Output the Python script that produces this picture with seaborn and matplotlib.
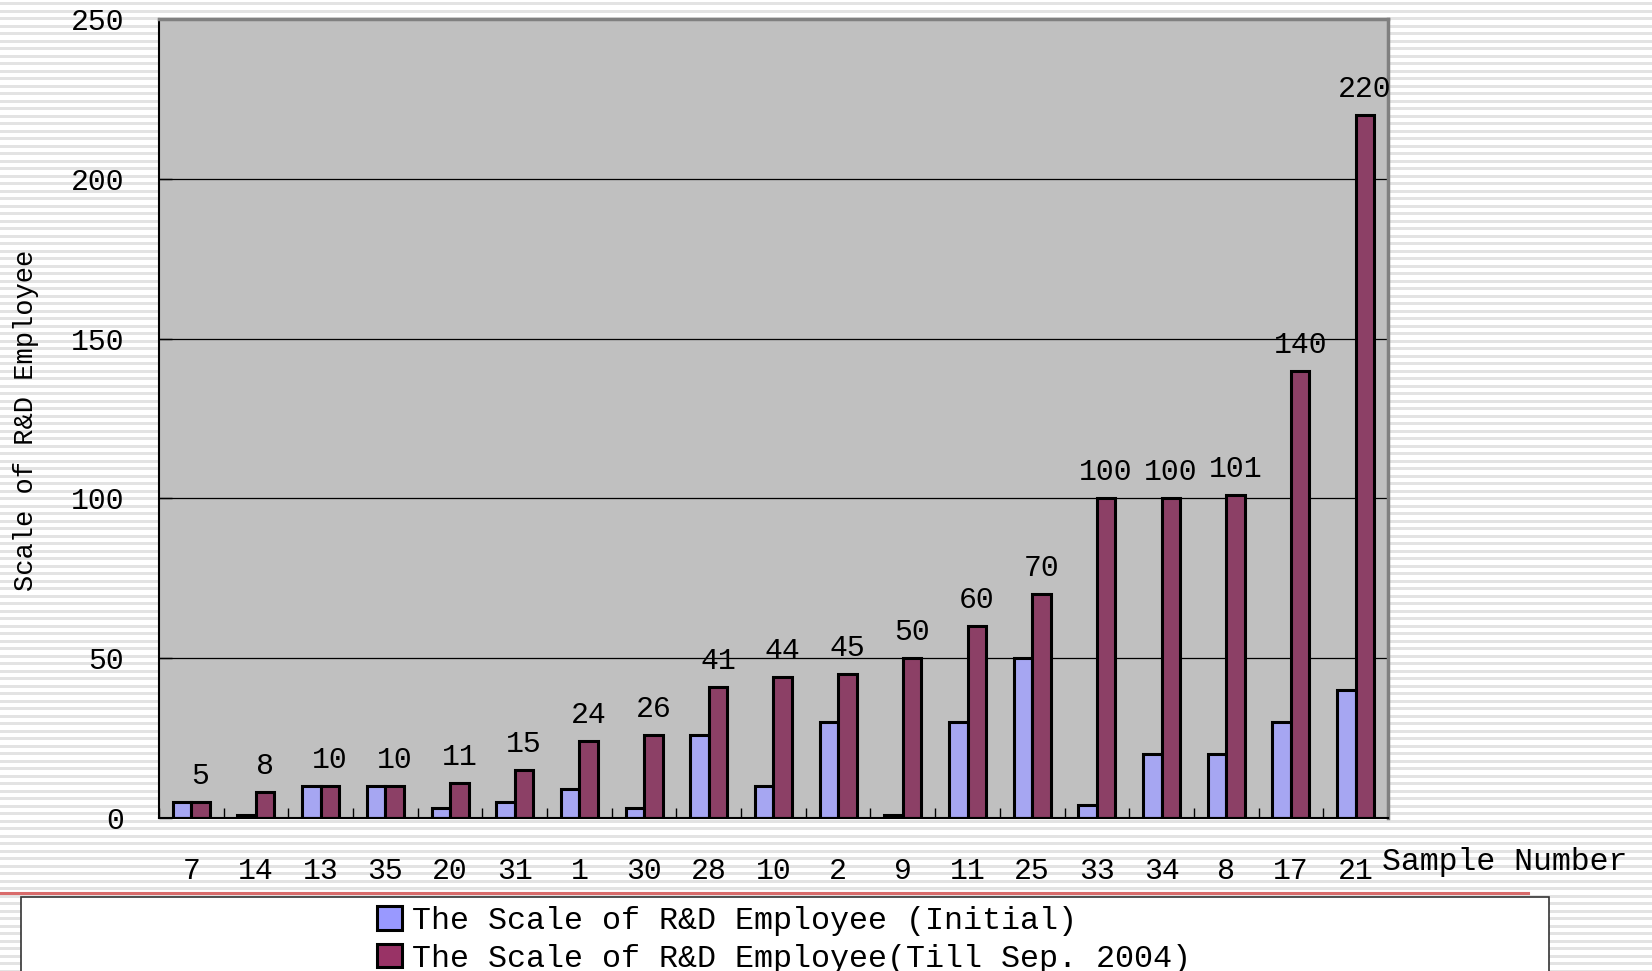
import matplotlib.pyplot as plt
import numpy as np
import pandas as pd
import seaborn as sns
from matplotlib.patches import Patch, Rectangle

# data
samples = ["7", "14", "13", "35", "20", "31", "1", "30", "28", "10",
           "2", "9", "11", "25", "33", "34", "8", "17", "21"]
initial = [5, 1, 10, 10, 3, 5, 9, 3, 26, 10, 30, 1, 30, 50, 4, 20, 20, 30, 40]
till_2004 = [5, 8, 10, 10, 11, 15, 24, 26, 41, 44, 45, 50, 60, 70, 100, 100, 101, 140, 220]
series_names = ["The Scale of R&D Employee (Initial)",
                "The Scale of R&D Employee(Till Sep. 2004)"]

df = pd.DataFrame({
    "sample": samples * 2,
    "series": [series_names[0]] * len(samples) + [series_names[1]] * len(samples),
    "value": initial + till_2004,
})

plt.rcParams['font.family'] = ['Liberation Mono', 'DejaVu Sans']
colors = ["#9999ff", "#993366"]

fig = plt.figure(figsize=(16.52, 9.71), dpi=100)

# striped page background
bg = fig.add_axes([0, 0, 1, 1], zorder=-10)
bg.set_xlim(0, 1652)
bg.set_ylim(971, 0)
bg.axis('off')
for y in np.arange(2.5, 971, 7.5):
    bg.axhspan(y, y + 3, color='#e3e3e3', lw=0)
bg.plot([0, 1528], [893, 893], color='#d96b6b', lw=2.2)
bg.add_patch(Rectangle((21, 897), 1528, 90, facecolor='white',
                       edgecolor='#333333', lw=1.2))

ax = fig.add_axes([0.0962, 0.1576, 0.744, 0.8228])
ax.set_facecolor('#c0c0c0')

sns.barplot(data=df, x="sample", y="value", hue="series", order=samples,
            hue_order=series_names, palette=colors, width=0.572,
            edgecolor='black', linewidth=2.2, errorbar=None, legend=False, ax=ax)

# value labels on the later series
for bar in ax.containers[1]:
    h = bar.get_height()
    ax.annotate(f"{h:g}", (bar.get_x() + bar.get_width() / 2, h),
                xytext=(0, 13), textcoords='offset points',
                ha='center', va='baseline', fontsize=21.5, clip_on=False)

ax.set_xlim(-0.5, len(samples) - 0.5)
ax.set_ylim(0, 250)
ax.set_yticks(range(0, 251, 50))
ax.set_xticks(np.arange(-0.5, len(samples), 1), minor=True)
ax.yaxis.grid(True, color='black', lw=0.9)
ax.set_axisbelow(True)
ax.tick_params(axis='y', direction='in', length=9, width=1, pad=25, labelsize=21.5)
ax.tick_params(axis='x', which='major', length=0, pad=28, labelsize=21.5)
ax.tick_params(axis='x', which='minor', direction='in', length=7, width=1)
ax.set_xlabel("")
ax.set_ylabel("")

for s in ['top', 'right']:
    ax.spines[s].set_color('#808080')
    ax.spines[s].set_linewidth(2.5)
for s in ['left', 'bottom']:
    ax.spines[s].set_color('black')
    ax.spines[s].set_linewidth(1.5)

fig.text(26 / 1652, 1 - 420 / 971, "Scale of R&D Employee", rotation=90,
         ha='center', va='center', fontsize=19.5)
fig.text(1382 / 1652, 1 - 862 / 971, "Sample Number", ha='left', va='center',
         fontsize=22.7)

handles = [Patch(facecolor=c, edgecolor='black', lw=2.2) for c in colors]
fig.legend(handles, series_names, loc='upper left',
           bbox_to_anchor=(377 / 1652, 1 - 906 / 971), frameon=False,
           fontsize=22.9, handlelength=0.8, handleheight=0.75,
           handletextpad=0.3, labelspacing=0.24, borderpad=0, borderaxespad=0)

fig.savefig("out.png", dpi=100)
